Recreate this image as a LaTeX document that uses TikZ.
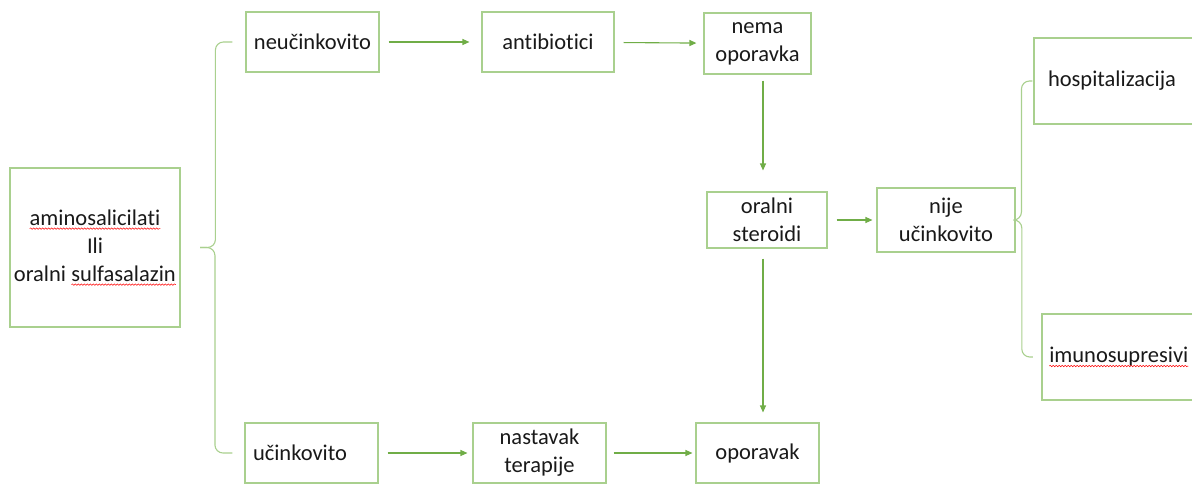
\documentclass[tikz,border=0pt]{standalone}
\usepackage{fontspec}
\setmainfont{Carlito}[Ligatures={NoCommon}]
\usetikzlibrary{arrows.meta,decorations.pathmorphing}

\definecolor{boxgreen}{RGB}{169,208,142}
\definecolor{arrowgreen}{RGB}{112,173,71}
\definecolor{inkgray}{RGB}{25,25,25}
\newcommand{\spellmark}[1]{\tikz[baseline=(sp.base)]{\node[inner sep=0pt,outer sep=0pt,minimum width=0pt,minimum height=0pt,text width={},draw=none] (sp) {#1};
  \draw[-,red,line width=0.5pt,decorate,decoration={snake,amplitude=0.7pt,segment length=3pt}] ([yshift=-3.5pt]sp.base west) -- ([yshift=-3.5pt]sp.base east);}}

\begin{document}
\begin{tikzpicture}[x=1pt,y=-1pt,->,>={Stealth[length=7pt,width=6pt,inset=0pt]},line width=1.1pt,font=\fontsize{22.5}{28}\selectfont]
  \tikzstyle{box}=[draw=boxgreen,text=inkgray,inner xsep=8pt,align=center]
  \tikzstyle{brace}=[-,draw=boxgreen,rounded corners=8pt]
  \tikzstyle{every edge}=[draw=arrowgreen]

  \useasboundingbox (0,0) rectangle (1192,483);
  \clip (0,0) rectangle (1192,483);

  \node[box,inner xsep=0pt,minimum width=170pt,minimum height=159pt] (amino) at (95,247.5) {\spellmark{aminosalicilati}\\Ili\\oralni \spellmark{sulfasalazin}};
  \node[box,minimum width=133pt,minimum height=60pt] (neuc) at (312.5,42) {neučinkovito};
  \node[box,minimum width=132pt,minimum height=60pt] (anti) at (548,42) {antibiotici};
  \node[box,minimum width=107pt,minimum height=61pt] (nema) at (757.5,43.5) {nema\\oporavka};
  \node[box,minimum width=120pt,minimum height=56pt] (oral) at (767,220) {oralni\\steroidi};
  \node[box,minimum width=138pt,minimum height=64pt] (nije) at (946,220) {nije\\učinkovito};
  \node[box,inner xsep=14pt,text width=148pt,align=left,minimum height=86pt] (hosp) at (1122,81) {hospitalizacija};
  \node[box,inner xsep=7pt,text width=164pt,align=left,minimum height=86pt] (imuno) at (1131,357) {\spellmark{imunosupresivi}};
  \node[box,text width=117pt,align=left,minimum height=60pt] (uc) at (311.5,453) {učinkovito};
  \node[box,minimum width=133pt,minimum height=60pt] (nast) at (539.5,453) {nastavak\\terapije};
  \node[box,minimum width=123pt,minimum height=60pt] (opor) at (757.5,453) {oporavak};

  % braces
  \coordinate (ltip) at ([xshift=20pt]amino.east);
  \draw[brace] (ltip) -| ([xshift=-30pt]neuc.west) -- ([xshift=-13pt]neuc.west);
  \draw[brace] (ltip) -| ([xshift=-29.5pt]uc.west) -- ([xshift=-12pt]uc.west);
  \coordinate (rtip) at (nije.east);
  \draw[brace] (rtip) -| ([xshift=-12pt]hosp.west) -- ([xshift=-1pt]hosp.west);
  \draw[brace] (rtip) -| ([xshift=-20pt]imuno.west) -- ([xshift=-9pt]imuno.west);

  \path (neuc) edge[shorten <=9pt,shorten >=12pt] (anti)
        (anti) edge[shorten <=9pt,shorten >=7pt] (nema)
        ([xshift=5.5pt]nema.south) edge[shorten <=6pt,shorten >=21pt] ([xshift=-4pt]oral.north)
        (oral) edge[shorten <=9pt,shorten >=4pt] (nije)
        ([xshift=-4pt]oral.south) edge[shorten <=10pt,shorten >=10pt] ([xshift=5.5pt]opor.north)
        (uc) edge[shorten <=9pt,shorten >=5pt] (nast)
        (nast) edge[shorten <=7pt,shorten >=3pt] (opor);
\end{tikzpicture}
\end{document}
